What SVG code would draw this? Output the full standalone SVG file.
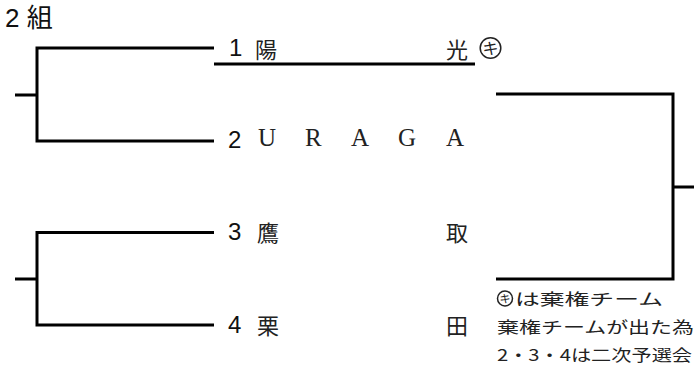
<svg xmlns="http://www.w3.org/2000/svg" width="694" height="373" viewBox="0 0 694 373">
<style>
.ln{fill:none;stroke:#000;stroke-width:3;stroke-linecap:butt;stroke-linejoin:miter}
.num{font-family:"Liberation Sans","Noto Sans CJK JP",sans-serif;font-size:24px;fill:#111}
.nm{font-family:"Noto Sans CJK JP",sans-serif;font-size:22px;fill:#222}
.lat{font-family:"Liberation Serif",serif;font-size:25px;fill:#222}
.note{font-family:"Noto Sans CJK JP",sans-serif;font-size:16px;fill:#222}
.ttl{font-family:"Liberation Sans","Noto Sans CJK JP",sans-serif;font-size:26px;fill:#111}
.circ{fill:none;stroke:#222;stroke-width:1.5}
.ki{font-family:"Noto Sans CJK JP",sans-serif;fill:#222;text-anchor:middle}
</style>
<rect width="694" height="373" fill="#fff"/>
<text class="ttl" x="5" y="27">2 組</text>
<g id="connectors">
<path class="ln" d="M214 48H37V141H214M15 95H37"/>
<path class="ln" d="M214 232.5H37V325H214M15 279H37"/>
<path class="ln" d="M496 94H673V279H496M673 187H694"/>
<path class="ln" d="M214 64H475"/>
</g>
<g id="team1">
<text class="num" x="229" y="56">1</text>
<text class="nm" x="255" y="58">陽</text>
<text class="nm" x="446" y="58">光</text>
<circle class="circ" cx="490.5" cy="48" r="10.3"/>
<text class="ki" x="490.5" y="54" font-size="16">キ</text>
</g>
<g id="team2">
<text class="num" x="228" y="148">2</text>
<text class="lat" x="258 305 351 398 446" y="146">URAGA</text>
</g>
<g id="team3">
<text class="num" x="228" y="240">3</text>
<text class="nm" x="257" y="241">鷹</text>
<text class="nm" x="446" y="241">取</text>
</g>
<g id="team4">
<text class="num" x="228" y="333">4</text>
<text class="nm" x="257" y="334">栗</text>
<text class="nm" x="446" y="334">田</text>
</g>
<g id="note">
<circle class="circ" cx="505" cy="298.5" r="7.5" stroke-width="1.2"/>
<text class="ki" x="505" y="303" font-size="11">キ</text>
<text class="note" x="515" y="305" textLength="148" lengthAdjust="spacingAndGlyphs">は棄権チーム</text>
<text class="note" x="497" y="333" textLength="197" lengthAdjust="spacingAndGlyphs">棄権チームが出た為</text>
<text class="note" x="497" y="361" textLength="195" lengthAdjust="spacingAndGlyphs">2・3・4は二次予選会</text>
</g>
</svg>
